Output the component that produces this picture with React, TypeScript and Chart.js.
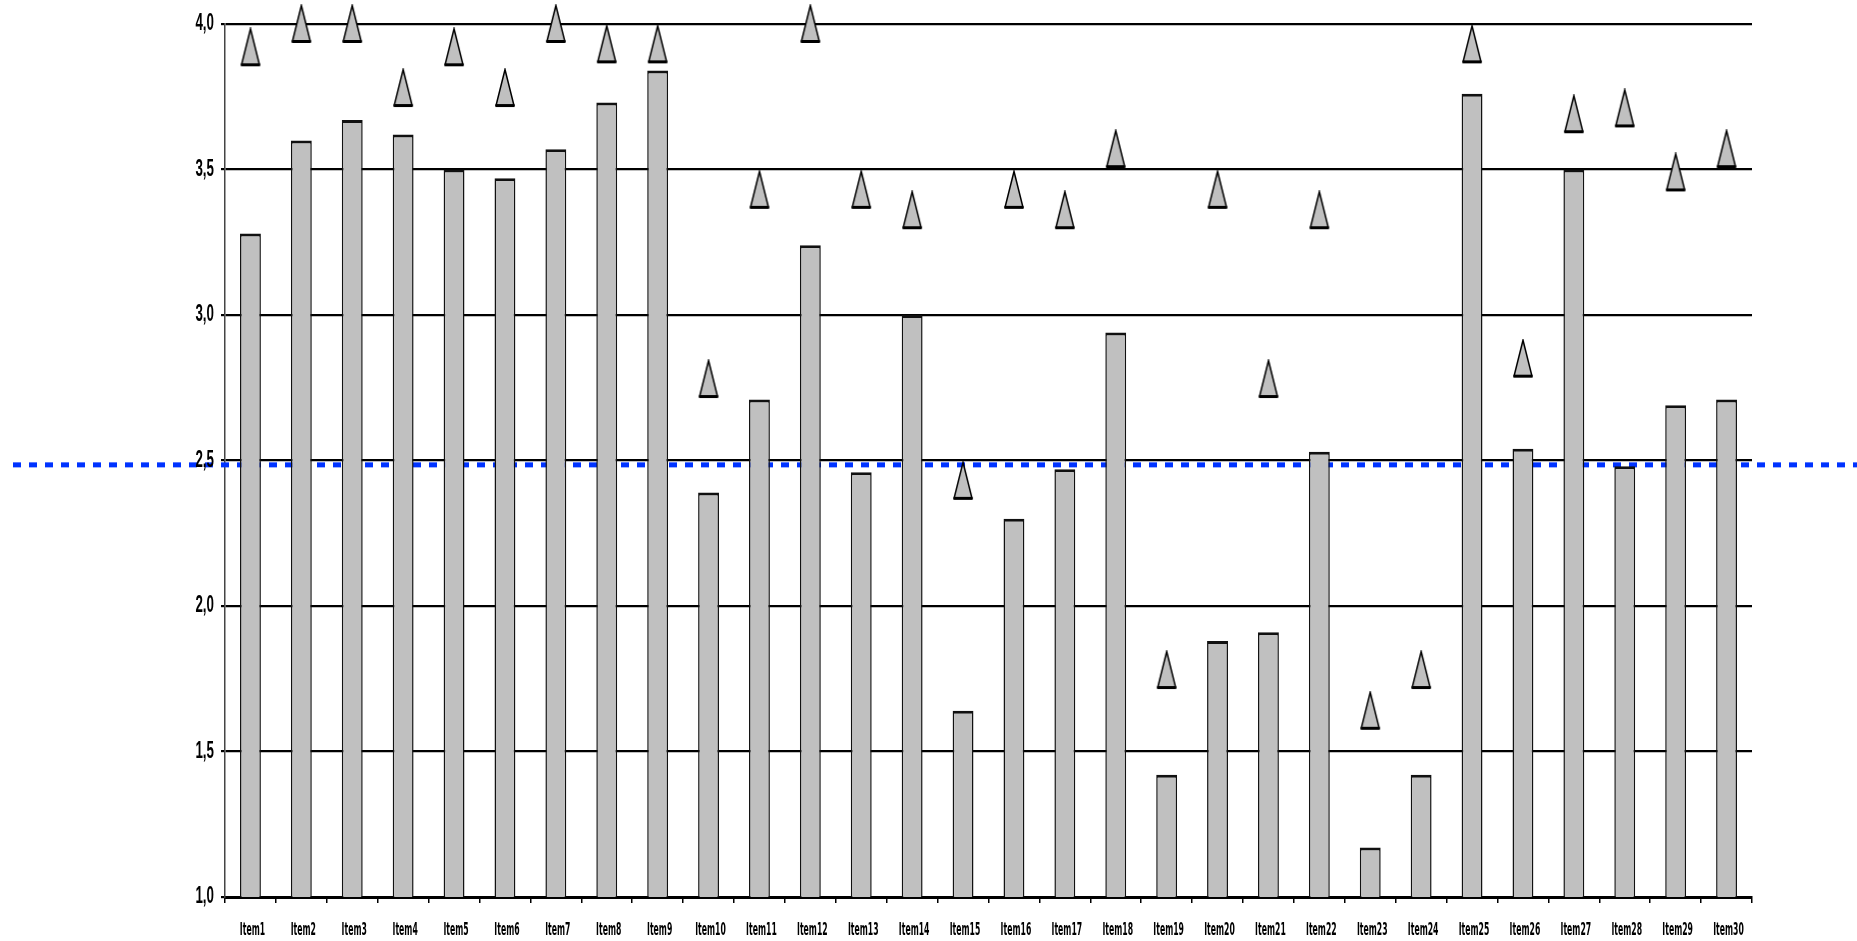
import React, { useEffect, useRef } from "react";
import { Chart, registerables } from "chart.js";

Chart.register(...registerables);

const categories = [
  "Item1", "Item2", "Item3", "Item4", "Item5", "Item6", "Item7", "Item8", "Item9", "Item10",
  "Item11", "Item12", "Item13", "Item14", "Item15", "Item16", "Item17", "Item18", "Item19", "Item20",
  "Item21", "Item22", "Item23", "Item24", "Item25", "Item26", "Item27", "Item28", "Item29", "Item30",
];

const barValues = [
  3.28, 3.6, 3.67, 3.62, 3.5, 3.47, 3.57, 3.73, 3.84, 2.39,
  2.71, 3.24, 2.46, 3.0, 1.64, 2.3, 2.47, 2.94, 1.42, 1.88,
  1.91, 2.53, 1.17, 1.42, 3.76, 2.54, 3.5, 2.48, 2.69, 2.71,
];

const markerValues = [
  3.92, 4.0, 4.0, 3.78, 3.92, 3.78, 4.0, 3.93, 3.93, 2.78,
  3.43, 4.0, 3.43, 3.36, 2.43, 3.43, 3.36, 3.57, 1.78, 3.43,
  2.78, 3.36, 1.64, 1.78, 3.93, 2.85, 3.69, 3.71, 3.49, 3.57,
];

const averageValue = 2.485;

const yMin = 1;
const yMax = 4;
const yStep = 0.5;

const formatY = (v: number) => Number(v).toFixed(1).replace(".", ",");

function makeTriangle(): HTMLCanvasElement {
  const c = document.createElement("canvas");
  c.width = 22;
  c.height = 40;
  const ctx = c.getContext("2d")!;
  ctx.beginPath();
  ctx.moveTo(11, 1.5);
  ctx.lineTo(20, 37.5);
  ctx.lineTo(2, 37.5);
  ctx.closePath();
  ctx.fillStyle = "#C0C0C0";
  ctx.fill();
  ctx.lineWidth = 1.5;
  ctx.strokeStyle = "#000";
  ctx.stroke();
  ctx.beginPath();
  ctx.moveTo(1.5, 37.5);
  ctx.lineTo(20.5, 37.5);
  ctx.lineWidth = 3;
  ctx.stroke();
  return c;
}

const avgLinePlugin = {
  id: "avgLine",
  beforeDatasetsDraw(chart: any) {
    const y = chart.scales.y.getPixelForValue(averageValue);
    const ctx = chart.ctx;
    ctx.save();
    ctx.strokeStyle = "#0033FF";
    ctx.lineWidth = 5;
    ctx.setLineDash([8, 8]);
    ctx.beginPath();
    ctx.moveTo(13, y);
    ctx.lineTo(chart.width, y);
    ctx.stroke();
    ctx.restore();
  },
};

// Narrow (horizontally squeezed) axis labels, drawn from the scales' own ticks
const narrowLabelsPlugin = {
  id: "narrowLabels",
  afterDraw(chart: any) {
    const ctx = chart.ctx;
    const xs = chart.scales.x;
    const ys = chart.scales.y;
    ctx.save();
    ctx.fillStyle = "#000";

    ctx.font = "bold 23px 'Liberation Sans', Arial, sans-serif";
    ctx.textAlign = "right";
    ctx.textBaseline = "middle";
    ys.ticks.forEach((t: any) => {
      const y = ys.getPixelForValue(t.value);
      ctx.save();
      ctx.translate(ys.right - 11, y);
      ctx.scale(0.58, 1);
      ctx.fillText(formatY(t.value), 0, 0);
      ctx.restore();
    });

    ctx.font = "bold 18px 'DejaVu Sans', sans-serif";
    ctx.textAlign = "center";
    ctx.textBaseline = "alphabetic";
    const labels = xs.getLabels();
    xs.ticks.forEach((t: any, i: number) => {
      const x = xs.getPixelForTick(i);
      ctx.save();
      ctx.translate(x + 2, xs.top + 38);
      ctx.scale(0.43, 1);
      ctx.fillText(labels[t.value], 0, 0);
      ctx.restore();
    });
    ctx.restore();
  },
};

export default function App() {
  const ref = useRef<HTMLCanvasElement | null>(null);

  useEffect(() => {
    document.body.style.margin = "0";
    const tri = makeTriangle();
    const chart = new Chart(ref.current!, {
      type: "bar",
      data: {
        labels: categories,
        datasets: [
          {
            type: "line",
            data: markerValues,
            showLine: false,
            pointStyle: tri as any,
            pointRadius: 5,
            pointHoverRadius: 5,
            clip: false as any,
            order: 0,
          } as any,
          {
            type: "bar",
            data: barValues,
            backgroundColor: "#C0C0C0",
            borderColor: "#111",
            borderWidth: { top: 3, left: 1.5, right: 1.5, bottom: 0 } as any,
            borderSkipped: false as any,
            categoryPercentage: 1,
            barPercentage: 0.41,
            order: 1,
          },
        ],
      },
      options: {
        responsive: true,
        maintainAspectRatio: false,
        animation: false,
        events: [],
        layout: { padding: { top: 24, right: 105, left: 0, bottom: 0 } },
        plugins: {
          legend: { display: false },
          tooltip: { enabled: false },
        },
        scales: {
          x: {
            grid: {
              offset: true,
              drawOnChartArea: false,
              drawTicks: true,
              tickLength: 6,
              color: "#000",
              lineWidth: 1.5,
            },
            border: { display: true, color: "#000", width: 3 },
            ticks: {
              display: false,
              autoSkip: false,
              maxRotation: 0,
            },
            afterFit: (scale: any) => {
              scale.height = 44;
            },
          },
          y: {
            min: yMin,
            max: yMax,
            grid: {
              color: "#000",
              lineWidth: 2.2,
              drawTicks: true,
              tickLength: 4,
            },
            border: { display: true, color: "#444", width: 1.5 },
            ticks: {
              display: false,
              stepSize: yStep,
              callback: (v: any) => formatY(v),
            },
            afterFit: (scale: any) => {
              scale.width = 225;
            },
          },
        },
      },
      plugins: [avgLinePlugin, narrowLabelsPlugin],
    });
    return () => chart.destroy();
  }, []);

  return (
    <div style={{ position: "fixed", left: 0, top: 0, width: 1857, height: 941, background: "#fff" }}>
      <canvas ref={ref} />
    </div>
  );
}
